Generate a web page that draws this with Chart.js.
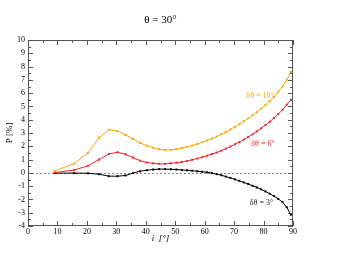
<!DOCTYPE html>
<html>
<head>
<meta charset="utf-8">
<script src="https://cdn.jsdelivr.net/npm/chart.js@4"></script>
<style>
  body { margin: 0; background: #fff; }
</style>
</head>
<body>
<canvas id="chart" width="354" height="259"></canvas>
<script>
// inclination i [deg] of each computed point
const incl = [9.07, 15.74, 20.36, 24.14, 27.44, 30.39, 33.12, 35.66, 38.05, 40.32,
  42.48, 44.56, 46.57, 48.51, 50.39, 52.23, 54.02, 55.77, 57.48, 59.17,
  60.82, 62.45, 64.06, 65.64, 67.20, 68.75, 70.28, 71.79, 73.29, 74.78,
  76.26, 77.73, 79.19, 80.65, 82.10, 83.54, 84.98, 86.42, 87.85, 89.28];

// P [%] for each delta theta
const p10 = [0.15, 0.7, 1.5, 2.65, 3.25, 3.15, 2.85, 2.55, 2.25, 2.05,
  1.9, 1.78, 1.72, 1.72, 1.78, 1.86, 1.96, 2.06, 2.17, 2.3,
  2.43, 2.58, 2.73, 2.9, 3.08, 3.27, 3.47, 3.67, 3.88, 4.1,
  4.33, 4.57, 4.83, 5.1, 5.4, 5.72, 6.08, 6.5, 7.0, 7.6];
const p6 = [0.02, 0.22, 0.53, 1.0, 1.42, 1.55, 1.4, 1.15, 0.92, 0.78,
  0.72, 0.68, 0.68, 0.72, 0.76, 0.82, 0.9, 0.98, 1.08, 1.18,
  1.29, 1.42, 1.53, 1.67, 1.82, 1.98, 2.15, 2.32, 2.5, 2.7,
  2.9, 3.12, 3.35, 3.6, 3.85, 4.12, 4.42, 4.75, 5.12, 5.5];
const p3 = [-0.02, -0.02, -0.03, -0.1, -0.25, -0.25, -0.2, -0.02, 0.12, 0.2,
  0.25, 0.28, 0.28, 0.27, 0.25, 0.22, 0.19, 0.16, 0.12, 0.08,
  0.04, -0.02, -0.1, -0.18, -0.28, -0.38, -0.49, -0.6, -0.72, -0.84,
  -0.97, -1.1, -1.24, -1.4, -1.57, -1.75, -1.96, -2.2, -2.58, -3.15];

const seriesLabels = ["\u03b4\u03b8 = 10\u00b0", "\u03b4\u03b8 = 6\u00b0", "\u03b4\u03b8 = 3\u00b0"];
const seriesColors = ["#ffa500", "#ff2020", "#000000"];
// where each curve label sits, in data units [i, P]
const labelAt = [[78.8, 5.8], [79.8, 2.2], [79.3, -2.25]];

const serif = "'Liberation Serif', 'DejaVu Serif', serif";

function toPoints(ys) {
  return ys.map((y, k) => ({ x: incl[k], y: y }));
}

// frame, inward ticks, zero line and curve labels
const decorations = {
  id: "decorations",
  beforeDatasetsDraw(chart) {
    const { ctx, chartArea: a, scales } = chart;
    const y0 = scales.y.getPixelForValue(0);
    ctx.save();
    ctx.strokeStyle = "#888";
    ctx.lineWidth = 1;
    ctx.setLineDash([2, 2]);
    ctx.beginPath();
    ctx.moveTo(a.left, Math.round(y0) + 0.5);
    ctx.lineTo(a.right, Math.round(y0) + 0.5);
    ctx.stroke();
    ctx.restore();
  },
  afterDatasetsDraw(chart) {
    const { ctx, chartArea: a, scales } = chart;
    ctx.save();
    ctx.strokeStyle = "#555";
    ctx.lineWidth = 1;
    ctx.strokeRect(a.left + 0.5, a.top + 0.5, a.right - a.left - 1, a.bottom - a.top - 1);
    ctx.beginPath();
    for (let v = 0; v <= 90; v += 5) {
      const x = Math.round(scales.x.getPixelForValue(v)) + 0.5;
      const len = v % 10 === 0 ? 5 : 3;
      ctx.moveTo(x, a.bottom); ctx.lineTo(x, a.bottom - len);
      ctx.moveTo(x, a.top); ctx.lineTo(x, a.top + len);
    }
    for (let v = -4; v <= 10; v += 0.5) {
      const y = Math.round(scales.y.getPixelForValue(v)) + 0.5;
      const len = Number.isInteger(v) ? 5 : 3;
      ctx.moveTo(a.left, y); ctx.lineTo(a.left + len, y);
      ctx.moveTo(a.right, y); ctx.lineTo(a.right - len, y);
    }
    ctx.stroke();

    ctx.font = "8px " + serif;
    ctx.textAlign = "center";
    ctx.textBaseline = "middle";
    labelAt.forEach((p, k) => {
      ctx.fillStyle = k === 2 ? "#222" : seriesColors[k];
      ctx.fillText(seriesLabels[k], scales.x.getPixelForValue(p[0]), scales.y.getPixelForValue(p[1]));
    });
    ctx.restore();
  }
};

const datasets = [p10, p6, p3].map((ys, k) => ({
  label: seriesLabels[k],
  data: toPoints(ys),
  borderColor: seriesColors[k],
  backgroundColor: seriesColors[k],
  borderWidth: 1,
  pointStyle: "rect",
  pointRadius: 1.4,
  pointBorderWidth: 0,
  tension: 0
}));

new Chart(document.getElementById("chart"), {
  type: "line",
  data: { datasets: datasets },
  options: {
    responsive: false,
    animation: false,
    layout: { padding: { left: 0, right: 61, top: 0, bottom: 0 } },
    plugins: {
      legend: { display: false },
      tooltip: { enabled: false },
      title: {
        display: true,
        fullSize: false,
        text: "\u03b8 = 30\u00b0",
        color: "#000",
        font: { family: serif, size: 11, weight: "normal" },
        padding: { top: 13.4, bottom: 13.4 }
      }
    },
    scales: {
      x: {
        type: "linear",
        min: 0,
        max: 90,
        afterFit: s => { s.height = 33; },
        grid: { display: false, drawTicks: false },
        border: { display: false },
        ticks: { stepSize: 10, padding: 1, color: "#000", font: { family: serif, size: 8 } },
        title: {
          display: true,
          text: "i  [\u00b0]",
          color: "#000",
          font: { family: serif, size: 9, style: "italic" },
          padding: { top: 0, bottom: 14.6 }
        }
      },
      y: {
        type: "linear",
        min: -4,
        max: 10,
        afterFit: s => { s.width = 28; },
        grid: { display: false, drawTicks: false },
        border: { display: false },
        ticks: { stepSize: 1, padding: 3, color: "#000", font: { family: serif, size: 8 } },
        title: {
          display: true,
          text: "P [%]",
          color: "#000",
          font: { family: serif, size: 9 },
          padding: { top: 4.6, bottom: 0 }
        }
      }
    }
  },
  plugins: [decorations]
});
</script>
</body>
</html>
